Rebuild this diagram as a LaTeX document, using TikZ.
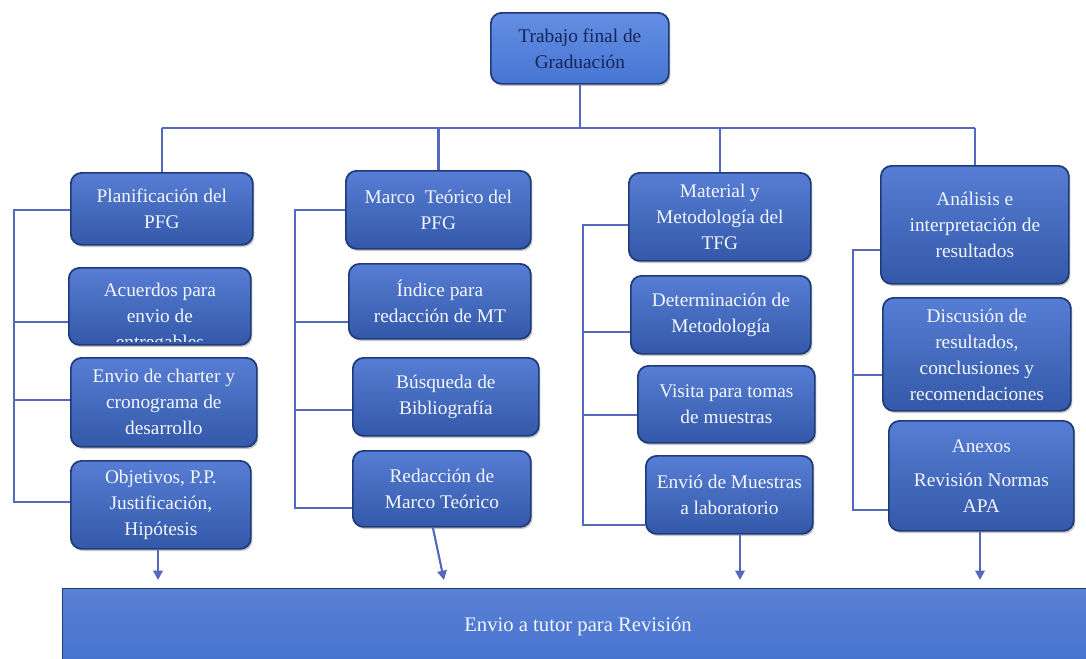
\documentclass[tikz,border=0pt]{standalone}
\usepackage{fontspec}
\setmainfont{Liberation Serif}
\usetikzlibrary{shadows,arrows.meta}
\definecolor{boxfill}{HTML}{3F6CCE}
\definecolor{boxedge}{HTML}{1F3A78}
\definecolor{boxtext}{HTML}{F4F6FC}
\definecolor{topfill}{HTML}{4A7BDE}
\definecolor{toptext}{HTML}{16245A}
\definecolor{linecol}{HTML}{5468C0}
\definecolor{barfill}{HTML}{4672CF}
\tikzset{
  box/.style={draw=boxedge, line width=1.3pt, top color=boxfill!88!white, bottom color=boxfill!82!black,
    rounded corners=8pt, text=boxtext, align=center, inner sep=0pt,
    font=\fontsize{14.5}{19.5}\selectfont, anchor=north west,
    drop shadow={shadow xshift=1.2pt, shadow yshift=-1.6pt, opacity=0.45}},
  sz/.style 2 args={minimum width={#1*0.75pt}, minimum height={#2*0.75pt}},
  conn/.style={draw=linecol, line width=2pt},
  arr/.style={draw=linecol, line width=1.6pt, -{Triangle[width=7pt,length=7pt]}},
  txt/.style={text=boxtext, align=center, inner sep=0pt, font=\fontsize{14.5}{19.5}\selectfont},
}
\begin{document}
\begin{tikzpicture}[x=0.75pt,y=-0.75pt]
\useasboundingbox (0,0) rectangle (1086,658);

% top
\node[box, sz={178}{71}, top color=topfill!85!white, bottom color=topfill!95!black, text=toptext] (top) at (490,12) {Trabajo final de\\Graduación};

% column 1
\node[box, sz={182}{72}] (p1) at (70,172) {Planificación del\\PFG};
\node[box, sz={182}{77}] (p2) at (68,267) {};
\begin{scope}
  \clip[rounded corners=8pt] ([xshift=2pt,yshift=-2pt]p2.north west) rectangle ([xshift=-2pt,yshift=3pt]p2.south east);
  \node[txt] (p2t) at ([yshift=-12*0.75pt]p2.center) {Acuerdos para\\envio de\\entregables};
\end{scope}
\node[box, sz={186}{89}] (p3) at (70,357) {Envio de charter y\\cronograma de\\desarrollo};
\node[box, sz={180}{88}] (p4) at (70,460) {Objetivos, P.P.\\Justificación,\\Hipótesis};

% column 2
\node[box, sz={185}{78}] (m1) at (345,170) {Marco\ \ Teórico del\\PFG};
\node[box, sz={182}{75}] (m2) at (348,263) {Índice para\\redacción de MT};
\node[box, sz={186}{78}] (m3) at (352,357) {Búsqueda de\\Bibliografía};
\node[box, sz={178}{76}] (m4) at (352,450) {Redacción de\\Marco Teórico};

% column 3
\node[box, sz={182}{88}] (t1) at (628,172) {Material y\\Metodología del\\TFG};
\node[box, sz={180}{78}] (t2) at (630,275) {Determinación de\\Metodología};
\node[box, sz={177}{77}] (t3) at (637,365) {Visita para tomas\\de muestras};
\node[box, sz={167}{78}] (t4) at (645,455) {Envió de Muestras\\a laboratorio};

% column 4
\node[box, sz={188}{118}] (a1) at (880,165) {Análisis e\\interpretación de\\resultados};
\node[box, sz={188}{113}] (a2) at (882,297) {Discusión de\\resultados,\\conclusiones y\\recomendaciones};
\node[box, sz={185}{110}] (a3) at (888,420) {Anexos\\[6pt]Revisión Normas\\APA};

% bottom bar
\node[draw=boxedge, line width=1pt, top color=barfill!90!white, bottom color=barfill, anchor=north west, sz={1040}{80}, inner sep=0pt] (bar) at (62,588) {};
\node[text=boxtext, font=\fontsize{15.5}{18}\selectfont, inner sep=0pt] (bart) at (578,627) {Envio a tutor para Revisión};

% tree connectors
\coordinate (hy) at (578,128);
\draw[conn] (top.south) -- (top.south |- hy);
\draw[conn] (p1.north |- hy) -- (a1.north |- hy);
\draw[conn] (p1.north |- hy) -- (p1.north);
\draw[conn] (m1.north |- hy) -- (m1.north);
\draw[conn] (t1.north |- hy) -- (t1.north);
\draw[conn] (a1.north |- hy) -- (a1.north);

% brackets
\coordinate (L1) at (14,0);
\coordinate (L2) at (295,0);
\coordinate (L3) at (583,0);
\coordinate (L4) at (853,0);
\draw[conn] (p1.west |- 0,210) -| (L1 |- 0,502) -- (p4.west |- 0,502);
\draw[conn] (L1 |- 0,322) -- (p2.west |- 0,322);
\draw[conn] (L1 |- 0,400) -- (p3.west |- 0,400);

\draw[conn] (m1.west |- 0,210) -| (L2 |- 0,508) -- (m4.west |- 0,508);
\draw[conn] (L2 |- 0,322) -- (m2.west |- 0,322);
\draw[conn] (L2 |- 0,410) -- (m3.west |- 0,410);

\draw[conn] (t1.west |- 0,225) -| (L3 |- 0,525) -- (t4.west |- 0,525);
\draw[conn] (L3 |- 0,332) -- (t2.west |- 0,332);
\draw[conn] (L3 |- 0,415) -- (t3.west |- 0,415);

\draw[conn] (a1.west |- 0,250) -| (L4 |- 0,510) -- (a3.west |- 0,510);
\draw[conn] (L4 |- 0,375) -- (a2.west |- 0,375);

% arrows to bar
\coordinate (e1) at (158,580);
\coordinate (e2) at (444,580);
\coordinate (e3) at (740,580);
\coordinate (e4) at (980,580);
\draw[arr] (p4.south -| e1) -- (e1);
\draw[arr] ([xshift=-9*0.75pt]m4.south) -- (e2);
\draw[arr] (t4.south -| e3) -- (e3);
\draw[arr] (a3.south -| e4) -- (e4);
\end{tikzpicture}
\end{document}
